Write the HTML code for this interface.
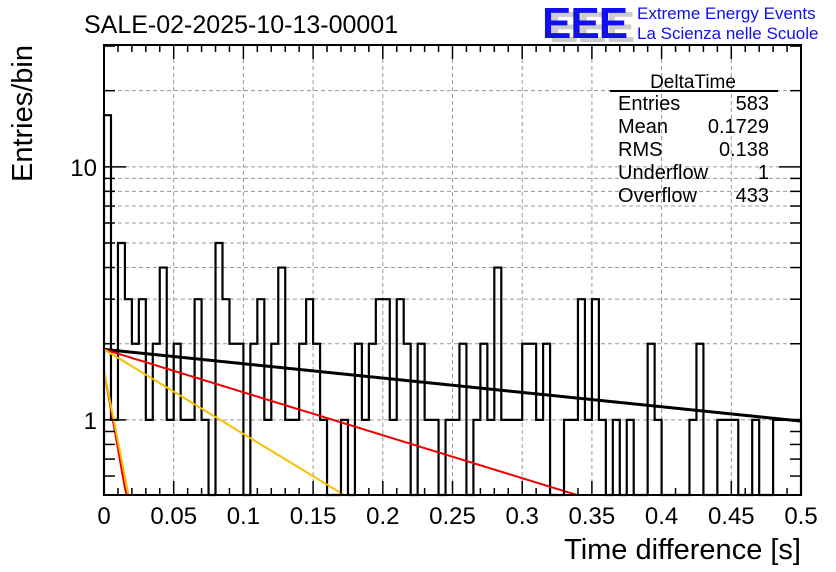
<!DOCTYPE html>
<html><head><meta charset="utf-8"><style>
html,body{margin:0;padding:0;background:#fff;width:836px;height:572px;overflow:hidden}
svg{display:block;font-family:"Liberation Sans",sans-serif}
</style></head><body>
<svg id="chart" width="836" height="572" viewBox="0 0 836 572">
<text x="84" y="33" font-size="25">SALE-02-2025-10-13-00001</text>
<g>
<text x="549" y="42" font-size="44" font-weight="bold" fill="#ccc" letter-spacing="-1">EEE</text>
<text x="542" y="38" font-size="44" font-weight="bold" fill="#1010ee" letter-spacing="-1">EEE</text>
<text x="637" y="19" font-size="17" fill="#1010ee">Extreme Energy Events</text>
<text x="637" y="39" font-size="17" fill="#1010ee">La Scienza nelle Scuole</text>
</g>
<g id="grid"></g>
<g id="hist"></g>
<g id="fits"></g>
<g id="axes"></g>
<g font-size="20">
<text x="693" y="88" text-anchor="middle" font-size="19">DeltaTime</text>
<line x1="610" y1="91" x2="778" y2="91" stroke="#000" stroke-width="2"/>
<text x="618" y="110">Entries</text><text x="769" y="110" text-anchor="end">583</text>
<text x="618" y="133">Mean</text><text x="769" y="133" text-anchor="end">0.1729</text>
<text x="618" y="156">RMS</text><text x="769" y="156" text-anchor="end">0.138</text>
<text x="618" y="179">Underflow</text><text x="769" y="179" text-anchor="end">1</text>
<text x="618" y="202">Overflow</text><text x="769" y="202" text-anchor="end">433</text>
</g>
<text x="801" y="559" font-size="29" text-anchor="end">Time difference [s]</text>
<text x="0" y="0" font-size="29" text-anchor="end" transform="translate(32,45) rotate(-90)">Entries/bin</text>
</svg>
<script>
const binCounts = [16,1,5,3,2,3,1,2,4,1,2,1,1,3,1,0,5,3,2,2,0,2,3,1,2,4,1,1,2,3,2,1,0,0,1,0,2,1,2,3,3,1,3,2,0,2,1,1,0,1,1,2,0,1,2,1,4,1,1,1,2,2,1,2,0,0,1,1,3,1,3,1,0,1,0,1,0,0,2,1,0,0,0,0,1,2,0,0,1,1,1,0,0,1,0,0,1,1,1,1];
const xTicks = [0,0.05,0.1,0.15,0.2,0.25,0.3,0.35,0.4,0.45,0.5];
const xTickLabels = ["0","0.05","0.1","0.15","0.2","0.25","0.3","0.35","0.4","0.45","0.5"];
const yGridValues = [1,2,3,4,5,6,7,8,9,10,20];
const yMinorValues = [0.6,0.7,0.8,0.9,1,2,3,4,5,6,7,8,9,10,20,30];
const yLabelValues = [1,10];
const fitAmp = [1.9,1.9,1.9,1.57,1.57];
const fitTau = [0.766,0.256,0.130,0.0140,0.0155];
const fitColor = ["#000","#e00","#f5c000","#e00","#f5c000"];
const X0=104,X1=801,Y0=45,Y1=495,XMAX=0.5,YMIN=0.505,YMAX=30.3;
const NS='http://www.w3.org/2000/svg';
function sx(v){return X0+(X1-X0)*v/XMAX;}
function sy(v){if(v<=YMIN)return Y1;return Y1-(Y1-Y0)*(Math.log10(v)-Math.log10(YMIN))/(Math.log10(YMAX)-Math.log10(YMIN));}
function mk(tag,attrs,parent){const e=document.createElementNS(NS,tag);for(const k in attrs)e.setAttribute(k,attrs[k]);parent.appendChild(e);return e;}
const grid=document.getElementById('grid');
xTicks.forEach(t=>{if(t>0&&t<XMAX){const l=mk('line',{x1:sx(t),x2:sx(t),y1:Y0,y2:Y1,stroke:'#999','stroke-dasharray':'4,3','stroke-width':1},grid);

}});
yGridValues.forEach(v=>{const l=mk('line',{x1:X0,x2:X1,y1:sy(v),y2:sy(v),stroke:'#999','stroke-dasharray':'4,3','stroke-width':1},grid);

});
const bw=XMAX/binCounts.length;
let d='M'+sx(0)+','+Y1;
binCounts.forEach((c,i)=>{const y=sy(c);d+=' L'+sx(i*bw)+','+y+' L'+sx((i+1)*bw)+','+y;});
d+=' L'+sx(XMAX)+','+Y1;
const hp=mk('path',{d:d,fill:'none',stroke:'#000','stroke-width':2.2},document.getElementById('hist'));


const fits=document.getElementById('fits');
fitAmp.forEach((A,k)=>{let pts=[];for(let i=0;i<=400;i++){const x=XMAX*i/400;const v=A*Math.exp(-x/fitTau[k]);if(v<YMIN){pts.push(sx(x)+','+Y1);break;}pts.push(sx(x)+','+sy(v));}
const p=mk('polyline',{points:pts.join(' '),fill:'none',stroke:fitColor[k],'stroke-width':k==0?3:2},fits);

});
const ax=document.getElementById('axes');
const fr=mk('rect',{x:X0,y:Y0,width:X1-X0,height:Y1-Y0,fill:'none',stroke:'#000','stroke-width':2},ax);


for(let i=0;i<=50;i++){const x=sx(i*0.01);const len=(i%5==0)?14:7;
mk('line',{x1:x,x2:x,y1:Y1,y2:Y1-len,stroke:'#000','stroke-width':1.5},ax);
mk('line',{x1:x,x2:x,y1:Y0,y2:Y0+len,stroke:'#000','stroke-width':1.5},ax);}
xTicks.forEach((t,i)=>{const tx=mk('text',{x:sx(t),y:524,'font-size':24,'text-anchor':'middle'},ax);tx.textContent=xTickLabels[i];

});
yMinorValues.forEach(v=>{const y=sy(v);if(y<Y0||y>Y1)return;const len=(v==1||v==10)?22:11;
mk('line',{x1:X0,x2:X0+len,y1:y,y2:y,stroke:'#000','stroke-width':1.5},ax);
mk('line',{x1:X1,x2:X1-len,y1:y,y2:y,stroke:'#000','stroke-width':1.5},ax);});
yLabelValues.forEach(v=>{const t=mk('text',{x:97,y:sy(v)+9,'font-size':24,'text-anchor':'end'},ax);t.textContent=String(v);

});
</script>
</body></html>
